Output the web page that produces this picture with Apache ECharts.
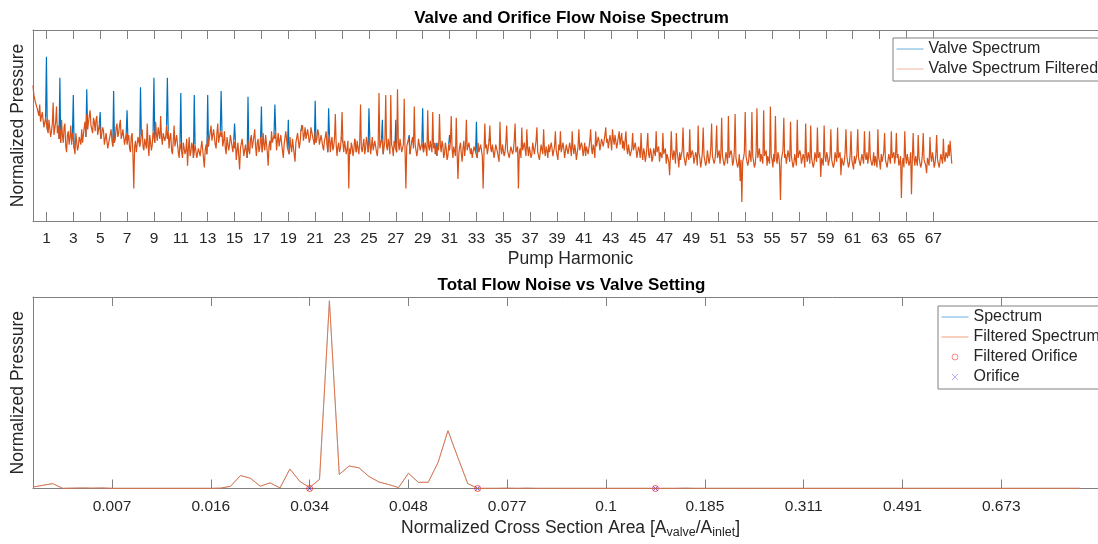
<!DOCTYPE html>
<html>
<head>
<meta charset="utf-8">
<script src="https://cdn.jsdelivr.net/npm/echarts@6/dist/echarts.min.js"></script>
<style>
html,body{margin:0;padding:0;background:#fff;}
#chart{width:1098px;height:544px;}
</style>
</head>
<body>
<div id="chart"></div>
<script>
// ---------- Top panel: Valve and Orifice Flow Noise Spectrum ----------
const harmonicStep = 0.0625; // spacing of spectrum samples in pump harmonics
// Filtered valve spectrum (normalized pressure, % of axis height), 16 samples per harmonic (one row per harmonic)
const valveFiltered = [
71,66,67,62,63,59,58,55,61,52,53,57,57,49,50,54,
55,48,46,53,52,44,47,51,62,45,44,52,60,46,50,43,
48,41,53,45,41,49,51,39,36,45,47,40,44,50,40,46,
43,38,35,46,47,37,39,44,45,40,48,41,42,49,52,44,
56,48,49,55,58,50,51,46,54,52,47,53,55,45,48,51,
50,43,44,49,47,40,41,46,45,38,37,43,44,48,42,39,
47,41,43,49,51,44,46,50,53,43,45,48,49,40,41,46,
40,43,45,38,36,44,46,35,17,39,42,36,37,44,45,39,
41,45,48,39,37,43,44,38,51,40,34,45,46,37,40,47,
46,41,52,45,42,49,48,43,55,44,40,46,47,42,44,50,
43,47,38,44,46,37,35,42,50,39,40,45,44,36,33,41,
40,36,33,41,42,35,37,43,29,38,44,34,36,41,39,33,
36,40,41,33,32,38,39,34,35,42,43,33,28,37,40,35,
45,39,40,47,50,42,43,48,47,40,38,46,51,41,42,47,
44,47,39,42,47,38,35,44,43,37,40,45,46,39,36,42,
38,42,32,37,41,34,27,38,37,43,42,34,35,40,39,33,
42,37,35,43,45,38,39,44,48,39,34,41,43,36,38,44,
41,36,46,40,37,45,44,36,29,39,42,37,47,41,40,45,
43,47,37,42,46,39,40,45,44,37,33,40,41,47,46,38,
39,35,44,39,36,43,42,35,31,41,40,46,45,38,41,47,
46,50,42,45,49,43,44,48,47,41,43,49,50,44,45,40,
47,41,43,48,46,40,41,45,45,39,37,42,44,47,40,36,
42,45,36,41,44,37,39,43,56,40,34,39,41,36,38,44,
57,41,36,42,43,35,38,42,17,38,35,41,39,34,37,43,
40,36,42,38,35,41,61,38,36,40,43,35,38,44,41,36,
40,44,35,39,44,37,38,42,42,36,34,40,67,38,39,43,
41,35,36,42,66,39,37,43,40,35,66,40,38,34,42,39,
40,36,69,41,37,43,42,36,35,40,64,37,17,39,38,43,
41,35,36,42,44,38,60,40,39,34,37,43,43,37,36,41,
40,36,35,41,42,34,58,39,37,42,43,36,57,38,41,35,
39,34,41,37,56,40,36,42,40,33,35,41,38,32,34,40,
37,41,55,38,33,39,40,34,54,36,22,35,39,41,35,31,
38,42,34,39,53,37,36,41,41,35,38,33,33,39,40,36,
37,33,41,36,35,40,39,34,17,36,51,38,40,35,38,42,
50,38,36,40,39,33,34,40,41,36,37,31,52,38,35,40,
39,34,36,41,50,37,38,33,34,39,40,35,37,42,51,36,
35,39,17,36,38,33,49,37,36,41,40,34,48,38,34,39,
38,33,35,41,40,35,36,42,49,36,37,32,33,40,39,35,
48,37,34,39,37,33,40,36,35,41,38,34,33,39,47,37,
36,32,40,37,47,36,35,41,38,33,34,40,39,35,36,41,
38,34,47,38,35,40,37,32,33,39,48,37,36,41,39,34,
37,41,34,39,40,35,36,42,48,38,35,40,38,33,47,39,
39,44,42,37,38,43,44,39,40,45,49,41,43,38,39,45,
42,37,48,43,40,45,44,38,39,44,47,40,41,46,38,42,
37,42,47,38,35,40,39,34,33,38,46,37,36,41,38,33,
34,39,37,33,46,36,32,38,36,31,34,39,46,35,33,38,
36,31,33,38,38,34,47,36,35,39,31,36,37,33,46,35,
34,38,30,35,36,31,24,34,47,35,32,37,35,30,46,36,
33,28,36,32,31,37,49,34,34,29,30,36,36,32,48,33,
32,37,35,30,30,36,34,29,50,35,33,28,31,36,49,34,
34,29,31,37,36,30,33,38,51,34,35,30,32,37,50,33,
33,37,30,35,54,34,35,29,31,36,34,30,55,33,32,37,
35,29,31,36,56,33,34,28,30,35,21,32,10,31,33,36,
57,34,35,29,31,37,36,31,57,34,33,28,30,36,59,33,
34,38,31,35,36,30,58,34,33,37,29,34,35,30,60,34,
32,28,35,31,55,33,30,36,34,29,11,32,33,37,54,33,
35,30,31,37,36,31,52,34,33,28,30,35,34,29,53,33,
32,37,35,30,30,35,33,28,51,34,31,36,34,30,50,33,
33,28,30,36,35,31,49,33,32,36,23,33,34,29,50,34,
31,36,34,29,29,34,48,32,33,28,30,36,35,31,49,33,
32,36,24,33,34,29,31,36,48,34,33,28,30,35,47,32,
31,27,34,30,30,35,48,33,33,29,29,35,35,30,47,34,
32,36,30,34,47,33,34,29,31,36,29,34,33,28,48,33,
31,27,35,31,30,36,46,32,33,28,29,35,34,30,47,33,
32,36,30,34,46,33,35,29,31,34,12,30,33,28,47,34,
30,35,34,29,31,36,14,32,46,33,29,34,35,29,45,33,
32,28,30,35,46,32,33,29,25,33,34,29,44,34,31,36,
33,28,30,35,45,32,32,28,29,35,34,30,43,33,31,36,
36,33,40,34,42,36,30
];
// Unfiltered valve spectrum: peaks at integer pump harmonics (elsewhere it follows the filtered curve)
const valvePeakHarmonics = [1,2,3,4,5,6,7,8,9,10,11,12,13,14,15,16,17,18,19,20,21,22,23,24,25,26,27,28,29,30,31,33,34];
const valvePeakValues    = [86,75,66,69,57,68,58,70,75,75,67,66,66,68,51,65,60,61,53,50,63,59,45,44,59,53,53,45,59,41,45,52,44];
const harmonicTicks = [1,3,5,7,9,11,13,15,17,19,21,23,25,27,29,31,33,35,37,39,41,43,45,47,49,51,53,55,57,59,61,63,65,67];

// ---------- Bottom panel: Total Flow Noise vs Valve Setting ----------
const totalFiltered = [
0.8,1.7,2.6,0.1,0.2,0.3,0.2,0.3,0.1,0.1,
0.1,0.1,0.1,0.1,0.1,0.1,0.1,0.1,0.1,0.2,
1.2,6.9,5.5,1.2,3.0,0.3,10.4,3.8,0.5,4.9,
100,7.5,12,11,6.4,3.5,2.1,0.5,8.1,3.3,
3.3,13.9,30.8,16.5,2.6,0.1,0.1,0.1,0.2,0.1,
0.2,0.1,0.1,0.1,0.1,0.1,0.1,0.1,0.1,0.1,
0.1,0.1,0.1,0.1,0.1,0.1,0.2,0.1,0.1,0.1,
0.1,0.1,0.1,0.1,0.1,0.1,0.1,0.1,0.1,0.1,
0.1,0.1,0.1,0.1,0.1,0.1,0.1,0.1,0.1,0.1,
0.1,0.1,0.1,0.1,0.1,0.1,0.1,0.1,0.1,0.1,
0.1,0.1,0.1,0.1,0.1,0.1,0.1
];
const totalSpectrum = [
0.8,1.7,2.6,0.1,0.2,0.3,0.2,0.3,0.1,0.1,
0.1,0.1,0.1,0.1,0.1,0.1,0.1,0.1,0.1,0.2,
1.2,6.9,5.5,1.2,3.0,0.3,10.4,3.8,0.5,4.9,
100,7.5,12,11,6.4,3.5,2.1,0.5,8.1,3.3,
3.3,13.9,30.8,16.5,2.6,0.1,0.1,0.1,0.2,0.1,
0.2,0.1,0.1,0.1,0.1,0.1,0.1,0.1,0.1,0.1,
0.1,0.1,0.1,0.1,0.1,0.1,0.2,0.1,0.1,0.1,
0.1,0.1,0.1,0.1,0.1,0.1,0.1,0.1,0.1,0.1,
0.1,0.1,0.1,0.1,0.1,0.1,0.1,0.1,0.1,0.1,
0.1,0.1,0.1,0.1,0.1,0.1,0.1,0.1,0.1,0.1,
0.1,0.1,0.1,0.1,0.1,0.1,0.1
];
const orificeIndex = [28,45,63];
const orificeLevel = [0,0,0];
const filteredOrificeLevel = [0,0,0];
const areaTickPositions = [8,18,28,38,48,58,68,78,88,98];
const areaTickLabels = ['0.007','0.016','0.034','0.048','0.077','0.1','0.185','0.311','0.491','0.673'];

// ---------- build series tables ----------
const filteredData = valveFiltered.map((v,i)=>[i*harmonicStep, v]);
// unfiltered spectrum: only its peaks differ from the filtered curve (which is drawn over it)
const spectrumData = [];
valvePeakHarmonics.forEach((h,k)=>{
  const j = Math.round(h/harmonicStep);
  spectrumData.push([(j-1)*harmonicStep, valveFiltered[j-1]]);
  spectrumData.push([j*harmonicStep, valvePeakValues[k]]);
  spectrumData.push([(j+1)*harmonicStep, valveFiltered[j+1]]);
  spectrumData.push([(j+1.5)*harmonicStep, null]);
});
const totFilteredData = totalFiltered.map((v,i)=>[i,v]);
const totSpectrumData = totalSpectrum.map((v,i)=>[i,v]);
const filtOrificeData = orificeIndex.map((x,i)=>[x, filteredOrificeLevel[i]]);
const orificeData = orificeIndex.map((x,i)=>[x, orificeLevel[i]]);

const FONT = 'Liberation Sans, Arial, Helvetica, sans-serif';
const AX = '#808080', TXT = '#262626';
const BLUE = '#0072BD', ORANGE = '#D95319';

function xAxisBase(grid, max, ticks, pos, showLabel, extra){
  return Object.assign({
    type:'value', gridIndex:grid, min:0, max:max, position:pos,
    axisLine:{show:true, onZero:false, lineStyle:{color:AX, width:1}},
    axisTick:{show:true, inside:true, length:9, customValues:ticks, lineStyle:{color:AX, width:1}},
    axisLabel:{show:showLabel, customValues:ticks, fontSize:15.5, color:TXT, fontFamily:FONT, margin:10},
    splitLine:{show:false}
  }, extra||{});
}
function yAxisBase(grid, max){
  return {
    type:'value', gridIndex:grid, min:0, max:max,
    axisLine:{show:true, lineStyle:{color:AX, width:1}},
    axisTick:{show:false}, axisLabel:{show:false}, splitLine:{show:false},
    name:'Normalized Pressure', nameLocation:'middle', nameGap:6,
    nameTextStyle:{fontSize:17.5, color:TXT, fontFamily:FONT}
  };
}
const hideSym = {color:'rgba(0,0,0,0)', borderColor:'rgba(0,0,0,0)', borderWidth:0, opacity:0};
const legendText = {fontSize:16, color:TXT, fontFamily:FONT, lineHeight:18};

const chart = echarts.init(document.getElementById('chart'), null, {renderer:'canvas'});
chart.setOption({
  animation:false,
  backgroundColor:'#fff',
  graphic:[
    {type:'text', x:571.5, y:18, style:{text:'Valve and Orifice Flow Noise Spectrum', fontSize:17, fontWeight:'bold', fontFamily:FONT, fill:'#000', align:'center', verticalAlign:'middle'}},
    {type:'text', x:571.5, y:285, style:{text:'Total Flow Noise vs Valve Setting', fontSize:17, fontWeight:'bold', fontFamily:FONT, fill:'#000', align:'center', verticalAlign:'middle'}}
  ],
  grid:[
    {left:33, width:1075, top:30, height:191, outerBoundsMode:'none', containLabel:false},
    {left:33, width:1075, top:297, height:191.5, outerBoundsMode:'none', containLabel:false}
  ],
  xAxis:[
    xAxisBase(0, 80, harmonicTicks, 'bottom', true, {name:'Pump Harmonic', nameLocation:'middle', nameGap:29, nameTextStyle:{fontSize:17.5, color:TXT, fontFamily:FONT}}),
    xAxisBase(0, 80, harmonicTicks, 'top', false),
    (function(){ const a = xAxisBase(1, 108.8, areaTickPositions, 'bottom', true, {
        name:'Normalized Cross Section Area [A{sub|valve}/A{sub|inlet}]', nameLocation:'middle', nameGap:28,
        nameTextStyle:{fontSize:17.5, color:TXT, fontFamily:FONT, rich:{sub:{fontSize:12.5, color:TXT, fontFamily:FONT, padding:[10,0,0,0]}}}});
      a.axisLabel.formatter = function(v){ const k = areaTickPositions.indexOf(v); return k>=0 ? areaTickLabels[k] : ''; };
      return a; })(),
    xAxisBase(1, 108.8, areaTickPositions, 'top', false)
  ],
  yAxis:[ yAxisBase(0, 100), yAxisBase(1, 102) ],
  legend:[
    {data:[
        {name:'Valve Spectrum', itemStyle:hideSym, lineStyle:{color:'#6aaee0', width:1}},
        {name:'Valve Spectrum Filtered', itemStyle:hideSym, lineStyle:{color:'#f2b49b', width:1}}],
     orient:'vertical', left:893, top:38,
     itemWidth:27, itemHeight:7, itemGap:2, padding:[2,60,3,3], selectedMode:false,
     borderColor:AX, borderWidth:1, backgroundColor:'#fff', textStyle:legendText},
    {data:[
        {name:'Spectrum', itemStyle:hideSym, lineStyle:{color:'#6aaee0', width:1}},
        {name:'Filtered Spectrum', itemStyle:hideSym, lineStyle:{color:'#f2a07f', width:1}},
        {name:'Filtered Orifice', itemStyle:{color:'rgba(0,0,0,0)', borderColor:'#ff6b6b', borderWidth:1}},
        {name:'Orifice', itemStyle:{color:'#7777ff', borderColor:'#7777ff', borderWidth:0.7}}],
     orient:'vertical', left:938, top:306,
     itemWidth:27, itemHeight:6, itemGap:2, padding:[2,60,3,3], selectedMode:false,
     borderColor:AX, borderWidth:1, backgroundColor:'#fff', textStyle:legendText}
  ],
  series:[
    {name:'Valve Spectrum', type:'line', xAxisIndex:0, yAxisIndex:0, data:spectrumData, symbol:'none', showSymbol:false, connectNulls:false,
     lineStyle:{color:BLUE, width:1.2}, itemStyle:{color:BLUE}},
    {name:'Valve Spectrum Filtered', type:'line', xAxisIndex:0, yAxisIndex:0, data:filteredData, symbol:'none', showSymbol:false,
     lineStyle:{color:ORANGE, width:1.2}, itemStyle:{color:ORANGE}},
    {name:'Spectrum', type:'line', xAxisIndex:2, yAxisIndex:1, data:totSpectrumData, symbol:'none', showSymbol:false,
     lineStyle:{color:BLUE, width:0.3}, itemStyle:{color:BLUE}},
    {name:'Filtered Spectrum', type:'line', xAxisIndex:2, yAxisIndex:1, data:totFilteredData, symbol:'none', showSymbol:false,
     lineStyle:{color:'#E2764A', width:1}, itemStyle:{color:ORANGE}},
    {name:'Filtered Orifice', type:'scatter', xAxisIndex:2, yAxisIndex:1, data:filtOrificeData, symbol:'circle', symbolSize:6, clip:false,
     itemStyle:{color:'rgba(0,0,0,0)', borderColor:'#FF0000', borderWidth:0.8}},
    {name:'Orifice', type:'scatter', xAxisIndex:2, yAxisIndex:1, data:orificeData, symbol:'path://M0,0L10,10M10,0L0,10', symbolSize:4, clip:false,
     itemStyle:{color:'#0000FF', borderColor:'#0000FF', borderWidth:0.8}}
  ]
});
</script>
</body>
</html>
